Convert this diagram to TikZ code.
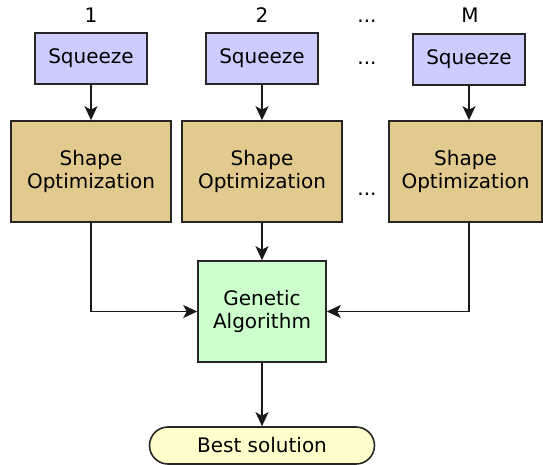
\documentclass[tikz,border=0pt]{standalone}
\usepackage{fontspec}
\setmainfont{DejaVu Sans}
\usetikzlibrary{arrows.meta,shapes.misc}
\definecolor{sqcol}{RGB}{204,204,255}
\definecolor{shcol}{RGB}{226,202,142}
\definecolor{gacol}{RGB}{204,255,204}
\definecolor{bscol}{RGB}{255,255,204}
\begin{document}
\begin{tikzpicture}[x=1pt,y=-1pt,
  every node/.style={font=\fontsize{20}{23.5}\selectfont, align=center, inner sep=0pt},
  box/.style={draw=black!85, line width=1.6pt, rectangle},
  sqbox/.style={box, fill=sqcol, minimum width=112pt, minimum height=51pt},
  shbox/.style={box, fill=shcol, minimum height=101pt},
  gabox/.style={box, fill=gacol, minimum width=128pt, minimum height=101pt},
  bsbox/.style={draw=black!85, line width=1.6pt, fill=bscol, rounded rectangle, minimum width=225pt, minimum height=37pt},
  conn/.style={draw=black!90, line width=1.6pt, -{Stealth[length=14pt,width=13pt,inset=3.5pt]}},
  lbl/.style={anchor=base}
]
\useasboundingbox (0,0) rectangle (543,465);
\node[lbl] (l1) at (91,23) {1};
\node[lbl] (l2) at (262,23) {2};
\node[lbl] (ld) at (367,23) {...};
\node[lbl] (lM) at (470,23) {M};
\node[sqbox] (sq1) at (91,58.5) {Squeeze};
\node[sqbox] (sq2) at (262,58.5) {Squeeze};
\node[lbl] (d1) at (367,65) {...};
\node[sqbox] (sqM) at (469,59.5) {Squeeze};
\node[shbox, minimum width=160pt] (sh1) at (91,171.5) {Shape\\Optimization};
\node[shbox, minimum width=160pt] (sh2) at (262,171.5) {Shape\\Optimization};
\node[lbl] (d2) at (367,196) {...};
\node[shbox, minimum width=153pt] (shM) at (465.5,171.5) {Shape\\Optimization};
\node[gabox] (ga) at (262,311.5) {Genetic\\Algorithm};
\node[bsbox] (bs) at (262,445.5) {Best solution};
\draw[conn] (sq1.south) -- (sq1.south |- sh1.north);
\draw[conn] (sq2.south) -- (sq2.south |- sh2.north);
\draw[conn] (sqM.south) -- (sqM.south |- shM.north);
\draw[conn] (sh2.south) -- (ga.north);
\draw[conn] (sh1.south) |- (ga.west);
\draw[conn] (sqM.south |- shM.south) |- (ga.east);
\draw[conn] (ga.south) -- (bs.north);
\end{tikzpicture}
\end{document}
